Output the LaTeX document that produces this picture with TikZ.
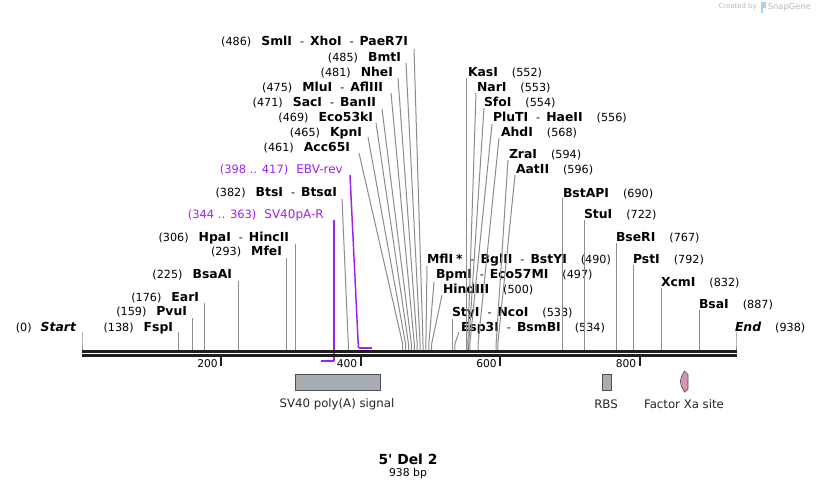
\documentclass[tikz,border=0pt]{standalone}
\usepackage{fontspec}
\setmainfont{DejaVu Sans}[Ligatures=TeXOff]
\newdimen\px \px=0.75pt
\definecolor{cutcol}{RGB}{140,140,140}
\definecolor{prim}{RGB}{160,32,240}
\definecolor{bbcol}{RGB}{30,30,30}
\definecolor{featgray}{RGB}{167,172,178}
\definecolor{featedge}{RGB}{80,80,80}
\definecolor{xapink}{RGB}{208,150,182}
\definecolor{logogray}{RGB}{185,185,185}
\definecolor{logoblue}{RGB}{170,210,240}

\newcommand\enb[1]{{\fontsize{9.3}{11}\selectfont\bfseries #1}}
\newcommand\enm[1]{{\fontsize{8.4}{10}\selectfont(#1)}}
\newcommand\ensep{{\fontsize{8.4}{10}\selectfont\hspace{8\px}-\hspace{6\px}}}

% #1 name, #2 anchor side, #3 label x, #4 label centre y, #5 text, #6 top x, #7 top y, #8 stub x
\newcommand\enzyme[8]{%
  \node[lab,anchor=base #2] (#1) at (#3,#4+4.5) {#5};
  \coordinate (#1-t) at (#6,#7);
  \coordinate (#1-m) at (#8,344);
  \coordinate (#1-b) at (#8,350);
  \draw[cutline] (#1-t) -- (#1-m) -- (#1-b);}

\tikzset{
  lab/.style={inner sep=0pt, outer sep=0pt, text=black},
  cutline/.style={draw=cutcol, line width=0.75pt},
  primline/.style={draw=prim, line width=1.1pt},
  primbar/.style={draw=prim, line width=1.8pt},
  plab/.style={inner sep=0pt, text=prim},
  backbone/.style={draw=bbcol, line width=2.1pt},
  tickmark/.style={draw=bbcol, line width=1.5pt},
  ticklab/.style={inner sep=0pt, font=\fontsize{8}{9}\selectfont, anchor=east},
  featbox/.style={draw=featedge, fill=featgray, line width=0.6pt, inner sep=0pt},
  flab/.style={inner sep=0pt, font=\fontsize{8.8}{10}\selectfont, text=black!85},
}

\begin{document}
\begin{tikzpicture}[x=0.75pt,y=-0.75pt]
\fill[white] (0,0) rectangle (818,490);
\useasboundingbox (0,0) rectangle (818,490);

% watermark
\node[inner sep=0pt, anchor=east, text=logogray, font=\fontsize{5.2}{6}\selectfont] (createdby) at (757,7) {Created by};
\fill[logoblue] (760.5,2) rectangle (765.5,8);
\fill[logoblue] (760.5,2) rectangle (762.5,13);
\node[inner sep=0pt, anchor=west, text=logogray, font=\fontsize{6.3}{7}\selectfont] (snapgene) at (767.5,7) {SnapGene};

% left-side enzymes
\enzyme{start}{east}{76}{327}{\enm{0}\hspace{9\px}\enb{\itshape Start}}{82}{332}{82}
\enzyme{fspI}{east}{173}{327}{\enm{138}\hspace{10\px}\enb{FspI}}{178.2}{332}{178.2}
\enzyme{pvuI}{east}{187}{311}{\enm{159}\hspace{10\px}\enb{PvuI}}{192.9}{318}{192.9}
\enzyme{earI}{east}{199}{297}{\enm{176}\hspace{10\px}\enb{EarI}}{204.7}{303}{204.7}
\enzyme{bsaAI}{east}{232}{274}{\enm{225}\hspace{10\px}\enb{BsaAI}}{238.9}{281}{238.9}
\enzyme{mfeI}{east}{282}{251}{\enm{293}\hspace{10\px}\enb{MfeI}}{286.3}{258}{286.3}
\enzyme{hpaI}{east}{289}{237}{\enm{306}\hspace{10\px}\enb{HpaI}\ensep\enb{HincII}}{295.3}{244}{295.3}
\enzyme{btsI}{east}{337}{192}{\enm{382}\hspace{10\px}\enb{BtsI}\ensep\enb{BtsαI}}{342}{199}{348.3}
\enzyme{acc65I}{east}{350}{147}{\enm{461}\hspace{10\px}\enb{Acc65I}}{359}{153}{402.7}
\enzyme{kpnI}{east}{362}{132}{\enm{465}\hspace{10\px}\enb{KpnI}}{368}{137}{405.6}
\enzyme{eco53kI}{east}{373}{117}{\enm{469}\hspace{10\px}\enb{Eco53kI}}{376}{123}{408.5}
\enzyme{sacI}{east}{376}{102}{\enm{471}\hspace{10\px}\enb{SacI}\ensep\enb{BanII}}{382}{109}{411.4}
\enzyme{mluI}{east}{383}{87}{\enm{475}\hspace{10\px}\enb{MluI}\ensep\enb{AflIII}}{391}{93}{414.3}
\enzyme{nheI}{east}{393}{72}{\enm{481}\hspace{10\px}\enb{NheI}}{398}{78}{417.2}
\enzyme{bmtI}{east}{401}{57}{\enm{485}\hspace{10\px}\enb{BmtI}}{406}{63}{420.1}
\enzyme{smlI}{east}{408}{41}{\enm{486}\hspace{10\px}\enb{SmlI}\ensep\enb{XhoI}\ensep\enb{PaeR7I}}{414}{49}{423}

% right-side enzymes
\enzyme{mflI}{west}{427}{259}{\enb{MflI}\hspace{3\px}\enb{*}\ensep\enb{BglII}\ensep\enb{BstYI}\hspace{14\px}\enm{490}}{427}{266}{425.9}
\enzyme{bpmI}{west}{436}{274}{\enb{BpmI}\ensep\enb{Eco57MI}\hspace{14\px}\enm{497}}{434}{282}{428.8}
\enzyme{hindIII}{west}{443}{289}{\enb{HindIII}\hspace{14\px}\enm{500}}{442}{295}{431.6}
\enzyme{styI}{west}{452}{312}{\enb{StyI}\ensep\enb{NcoI}\hspace{14\px}\enm{533}}{452.7}{319}{452.7}
\enzyme{esp3I}{west}{461}{327}{\enb{Esp3I}\ensep\enb{BsmBI}\hspace{14\px}\enm{534}}{459}{332}{454.8}
\enzyme{kasI}{west}{468}{72}{\enb{KasI}\hspace{14\px}\enm{552}}{466.9}{78}{466.9}
\enzyme{narI}{west}{477}{87}{\enb{NarI}\hspace{14\px}\enm{553}}{476}{93}{467.8}
\enzyme{sfoI}{west}{484}{102}{\enb{SfoI}\hspace{14\px}\enm{554}}{484}{108}{468.7}
\enzyme{pluTI}{west}{493}{117}{\enb{PluTI}\ensep\enb{HaeII}\hspace{14\px}\enm{556}}{492}{124}{469.8}
\enzyme{ahdI}{west}{501}{132}{\enb{AhdI}\hspace{14\px}\enm{568}}{499}{138}{478}
\enzyme{zraI}{west}{509}{154}{\enb{ZraI}\hspace{14\px}\enm{594}}{508}{160}{496.1}
\enzyme{aatII}{west}{516}{169}{\enb{AatII}\hspace{14\px}\enm{596}}{515}{175}{497.8}
\enzyme{bstAPI}{west}{563}{193}{\enb{BstAPI}\hspace{14\px}\enm{690}}{562.5}{198}{562.5}
\enzyme{stuI}{west}{584}{214}{\enb{StuI}\hspace{14\px}\enm{722}}{584.5}{220}{584.5}
\enzyme{bseRI}{west}{616}{237}{\enb{BseRI}\hspace{14\px}\enm{767}}{616.5}{243}{616.5}
\enzyme{pstI}{west}{633}{259}{\enb{PstI}\hspace{14\px}\enm{792}}{633.5}{265}{633.5}
\enzyme{xcmI}{west}{661}{282}{\enb{XcmI}\hspace{14\px}\enm{832}}{661.5}{288}{661.5}
\enzyme{bsaI}{west}{699}{304}{\enb{BsaI}\hspace{14\px}\enm{887}}{699.5}{310}{699.5}
\enzyme{end}{west}{735}{327}{\enb{\itshape End}\hspace{14\px}\enm{938}}{736}{332}{736}

% primers
\node[plab, anchor=base east] (sv40pa) at (324,218.5) {{\fontsize{8.6}{10}\selectfont(344 .. 363)}\hspace{8\px}{\fontsize{9}{10}\selectfont SV40pA-R}};
\coordinate (sv40pa-t) at (334,220);
\coordinate (sv40pa-c) at (334,361);
\coordinate (sv40pa-e) at (321,361);
\draw[primline] (sv40pa-t) -- (sv40pa-c);
\draw[primbar] (sv40pa-c) -- (sv40pa-e);

\node[plab, anchor=base east] (ebv) at (343,173.5) {{\fontsize{8.6}{10}\selectfont(398 .. 417)}\hspace{8\px}{\fontsize{9}{10}\selectfont EBV-rev}};
\coordinate (ebv-t) at (350,175);
\coordinate (ebv-m) at (358,340);
\coordinate (ebv-c) at (358.5,348);
\coordinate (ebv-e) at (372,348);
\draw[primline] (ebv-t) -- (ebv-m) -- (ebv-c);
\draw[primbar] (ebv-c) -- (ebv-e);

% backbone
\coordinate (bbL1) at (82,351.3);
\coordinate (bbR1) at (737,351.3);
\coordinate (bbL2) at (82,355.5);
\coordinate (bbR2) at (737,355.5);
\draw[backbone] (bbL1) -- (bbR1);
\draw[backbone] (bbL2) -- (bbR2);

% ticks
\foreach \tx/\tl in {221/200, 360.5/400, 500/600, 639.5/800}{
  \draw[tickmark] (\tx,357) -- (\tx,366);
  \node[ticklab] (tick\tl) at (\tx-3,364) {\tl};
}

% features
\node[featbox, minimum width=63.75pt, minimum height=12pt] (sv40) at (337.5,382) {};
\node[flab] (sv40-l) at (337,404) {SV40 poly(A) signal};
\node[featbox, minimum width=6.75pt, minimum height=12pt] (rbs) at (606.5,382) {};
\node[flab] (rbs-l) at (606,404) {RBS};
\filldraw[fill=xapink, draw=featedge, line width=0.5pt] (684.5,371) -- (688,374.5) -- (688,389) -- (684.5,392) -- (681.3,386) -- (680.4,381.5) -- (681.3,377) -- cycle;
\node[flab] (xa-l) at (684,404) {Factor Xa site};

% title
\node[inner sep=0pt, font=\fontsize{10.4}{12}\selectfont\bfseries] (title) at (408,459) {5' Del 2};
\node[inner sep=0pt, font=\fontsize{8.1}{10}\selectfont] (len) at (408,474) {938 bp};
\end{tikzpicture}
\end{document}
